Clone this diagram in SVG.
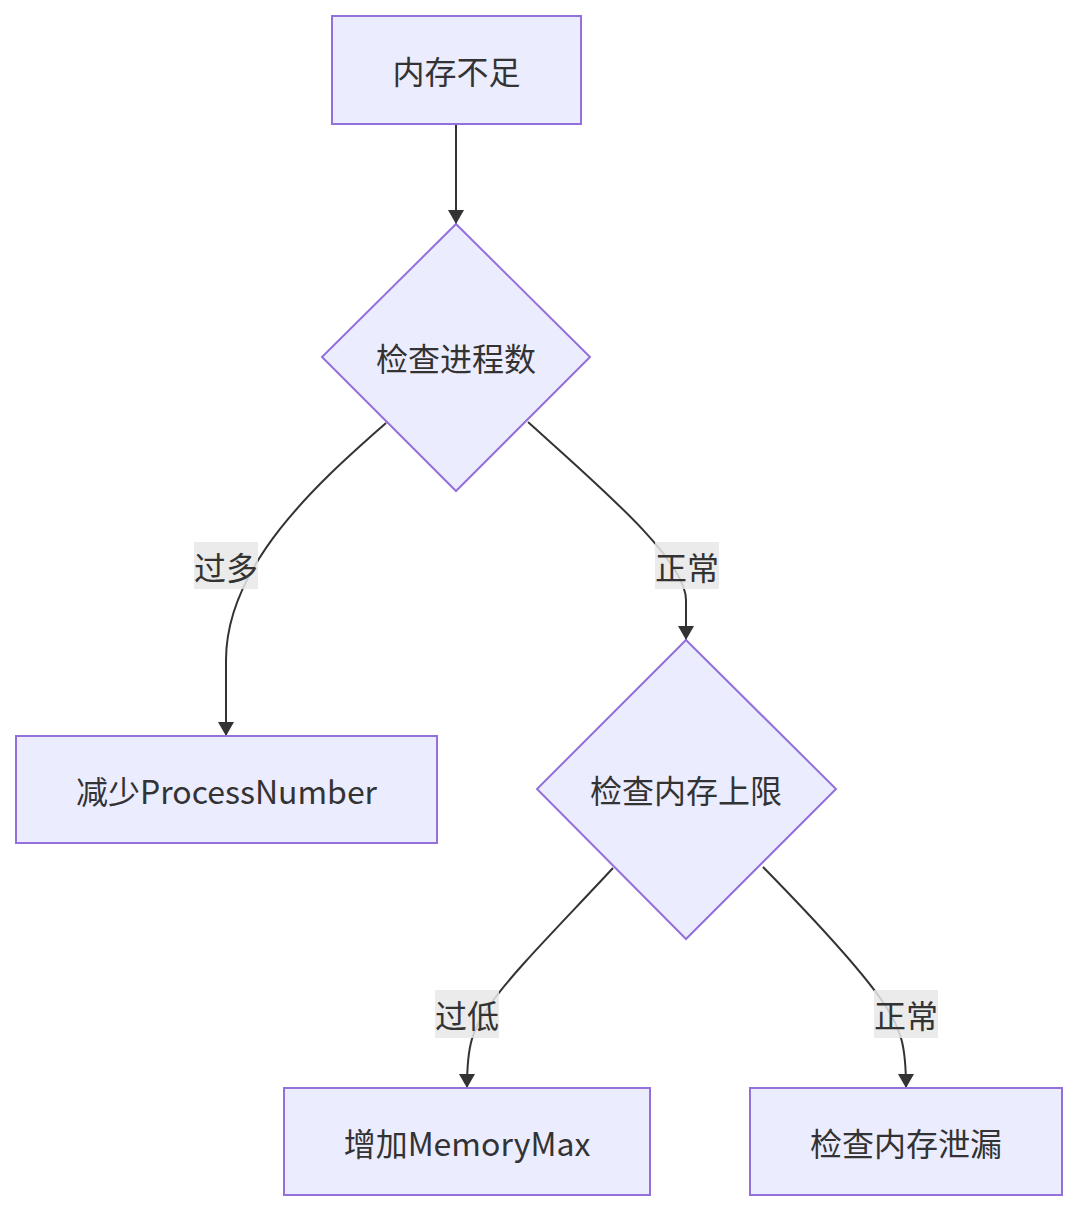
<svg xmlns="http://www.w3.org/2000/svg" width="1078" height="1212" viewBox="0 0 1078 1212">
<style>
.node rect,.node polygon{fill:#ECECFF;stroke:#9370DB;stroke-width:2}
text{font-family:"Noto Sans CJK SC","Noto Sans",sans-serif;font-size:32px;fill:#333;text-anchor:middle;dominant-baseline:central}
.edge{fill:none;stroke:#333;stroke-width:2;marker-end:url(#arrow)}
.lbl rect{fill:#e8e8e8;opacity:0.85}
</style>
<defs>
<marker id="arrow" markerUnits="userSpaceOnUse" viewBox="0 0 14 16" markerWidth="14" markerHeight="16" refX="14" refY="8" orient="auto">
<path d="M0,0 L14,8 L0,16 z" fill="#333"/>
</marker>
</defs>
<rect width="1078" height="1212" fill="#fff"/>
<g id="connectors">
<path class="edge" d="M456,124 L456,224"/>
<path class="edge" d="M386,423 C330,473 226,560 226,660 L226,736"/>
<path class="edge" d="M528,422 C600,487 686,560 686,600 L686,640"/>
<path class="edge" d="M613,868 C560,925 510,975 490,1005 C472,1030 467,1045 467,1088"/>
<path class="edge" d="M763,867 C815,920 865,975 885,1005 C901,1030 906,1045 906,1088"/>
<g class="lbl"><rect x="194" y="542" width="64" height="47"/><text x="226" y="566">过多</text></g>
<g class="lbl"><rect x="655" y="542" width="64" height="47"/><text x="687" y="566">正常</text></g>
<g class="lbl"><rect x="435" y="990" width="64" height="48"/><text x="467" y="1014">过低</text></g>
<g class="lbl"><rect x="874" y="990" width="64" height="48"/><text x="906" y="1014">正常</text></g>
</g>
<g id="A" class="node"><rect x="332" y="16" width="249" height="108"/><text x="456.5" y="70">内存不足</text></g>
<g id="B" class="node"><polygon points="456,224 590,357 456,491 322,357"/><text x="456" y="357">检查进程数</text></g>
<g id="C" class="node"><rect x="16" y="736" width="421" height="107"/><text x="226.5" y="790">减少ProcessNumber</text></g>
<g id="D" class="node"><polygon points="686,640 836,789 686,939 537,789"/><text x="686" y="789">检查内存上限</text></g>
<g id="E" class="node"><rect x="284" y="1088" width="366" height="107"/><text x="467" y="1142">增加MemoryMax</text></g>
<g id="F" class="node"><rect x="750" y="1088" width="312" height="107"/><text x="906" y="1142">检查内存泄漏</text></g>
</svg>
